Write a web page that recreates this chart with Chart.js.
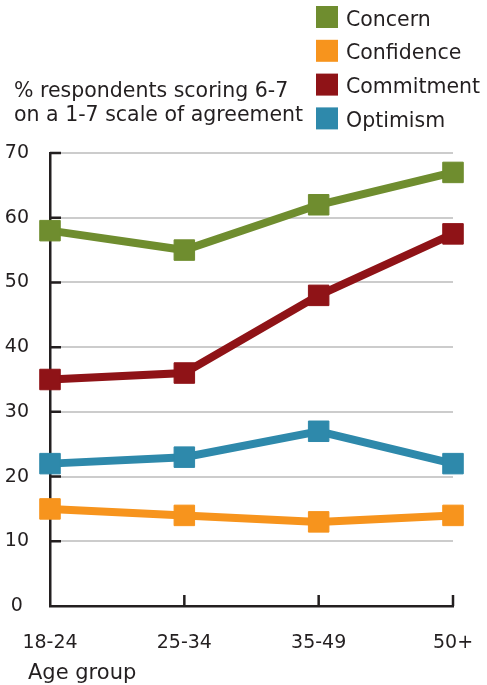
<!DOCTYPE html>
<html>
<head>
<meta charset="utf-8">
<script src="https://cdn.jsdelivr.net/npm/chart.js@4/dist/chart.umd.min.js"></script>
<style>
  html, body { margin: 0; padding: 0; background: #fff; }
  #wrap { width: 487px; height: 685px; }
</style>
</head>
<body>
<div id="wrap"><canvas id="ageChart" width="487" height="685"></canvas></div>
<script>
const ageGroups = ['18-24', '25-34', '35-49', '50+'];
const concern = [58, 55, 62, 67];
const confidence = [15, 14, 13, 14];
const commitment = [35, 36, 48, 57.5];
const optimism = [22, 23, 27, 22];
const seriesNames = ['Concern', 'Confidence', 'Commitment', 'Optimism'];
const seriesColors = ['#6f8d2f', '#f7941d', '#8f1317', '#2e89ab'];
const yTicks = [0, 10, 20, 30, 40, 50, 60, 70];
const titleLines = ['% respondents scoring 6-7', 'on a 1-7 scale of agreement'];
const xTitle = 'Age group';

const ink = '#231f20';
const font = 'DejaVu Sans';

function makeSet(i, values) {
    return {
        label: seriesNames[i],
        data: values,
        borderColor: seriesColors[i],
        backgroundColor: seriesColors[i],
        borderWidth: 8,
        pointStyle: 'rect',
        pointRadius: 14.5,
        pointBorderWidth: 1,
        pointBorderColor: seriesColors[i],
        pointBackgroundColor: seriesColors[i],
        tension: 0,
        clip: false
    };
}

// axis ticks pointing inward, title, legend and axis label
const extras = {
    id: 'extras',
    afterDraw(chart) {
        const ctx = chart.ctx;
        const x = chart.scales.x;
        const y = chart.scales.y;
        const area = chart.chartArea;
        ctx.save();
        ctx.strokeStyle = ink;
        ctx.lineWidth = 2.5;
        ctx.beginPath();
        yTicks.forEach(v => {
            if (v === 0) return;
            const py = y.getPixelForValue(v);
            ctx.moveTo(area.left, py);
            ctx.lineTo(area.left + 11, py);
        });
        ageGroups.forEach((g, i) => {
            if (i === 0) return;
            const px = x.getPixelForValue(i);
            ctx.moveTo(px, area.bottom);
            ctx.lineTo(px, area.bottom - 11);
        });
        ctx.stroke();

        ctx.fillStyle = ink;
        ctx.font = '20.5px "' + font + '"';
        ctx.textAlign = 'left';
        ctx.textBaseline = 'alphabetic';
        ctx.fillText(titleLines[0], 14, 97);
        ctx.fillText(titleLines[1], 14, 121);

        ctx.font = '21px "' + font + '"';
        ctx.fillText(xTitle, 28, 679);

        ctx.font = '20.5px "' + font + '"';
        chart.data.datasets.forEach((ds, i) => {
            const top = 6 + i * 33.8;
            ctx.fillStyle = ds.borderColor;
            ctx.fillRect(316, top, 22, 22);
            ctx.fillStyle = ink;
            ctx.fillText(ds.label, 346, top + 19.5);
        });
        ctx.restore();
    }
};

new Chart(document.getElementById('ageChart'), {
    type: 'line',
    data: {
        labels: ageGroups,
        datasets: [
            makeSet(0, concern),
            makeSet(1, confidence),
            makeSet(2, commitment),
            makeSet(3, optimism)
        ]
    },
    options: {
        responsive: false,
        animation: false,
        events: [],
        layout: { padding: { top: 153, right: 34, left: 0, bottom: 0 } },
        plugins: {
            legend: { display: false },
            title: { display: false },
            tooltip: { enabled: false }
        },
        scales: {
            x: {
                offset: false,
                afterFit: s => {
                    s.height = 79;
                    s.paddingLeft = 0;
                    s.paddingRight = 0;
                },
                grid: { display: false, drawTicks: false },
                border: { display: true, color: ink, width: 2.5 },
                ticks: {
                    padding: 26,
                    color: ink,
                    font: { family: font, size: 19 },
                    maxRotation: 0
                }
            },
            y: {
                min: 0,
                max: 70,
                afterFit: s => {
                    s.width = 50;
                    s.paddingTop = 0;
                    s.paddingBottom = 0;
                },
                afterBuildTicks: s => { s.ticks = yTicks.map(v => ({ value: v })); },
                grid: { color: '#cccccc', lineWidth: 2, drawTicks: false },
                border: { display: true, color: ink, width: 2.5 },
                ticks: {
                    padding: 21,
                    crossAlign: 'center',
                    color: ink,
                    font: { family: font, size: 19 }
                }
            }
        }
    },
    plugins: [extras]
});
</script>
</body>
</html>
